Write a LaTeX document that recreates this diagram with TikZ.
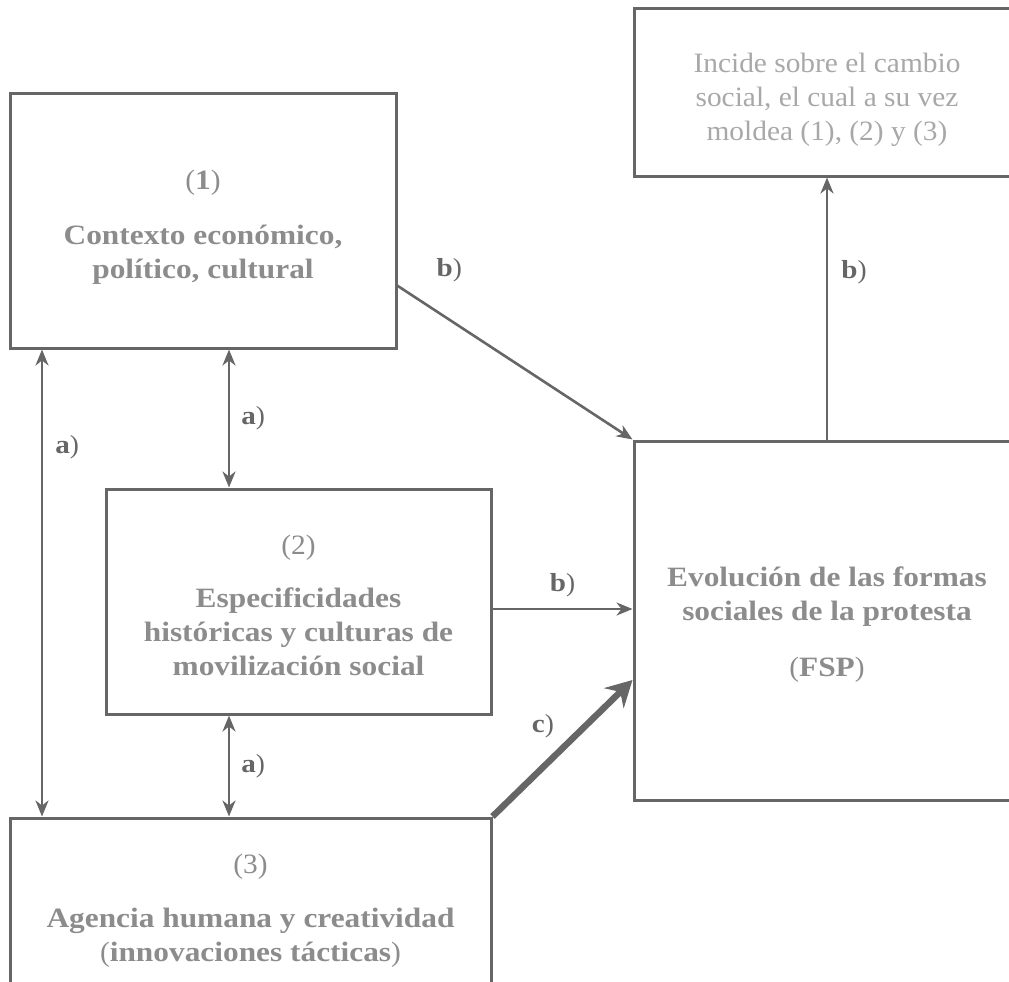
\documentclass[tikz,border=0pt]{standalone}
\usepackage{fontspec}
\setmainfont{Liberation Serif}[FakeStretch=1.05, BoldFeatures={FakeStretch=1.12}]
\usetikzlibrary{arrows.meta,positioning,calc}
\definecolor{linegray}{HTML}{666666}
\definecolor{txtgray}{HTML}{8C8C8C}
\definecolor{lightgray}{HTML}{A8A8A8}
\begin{document}
\begin{tikzpicture}[x=1pt, y=-1pt,
    box/.style = {draw = linegray, line width = 3pt, inner sep = 0pt},
    txt/.style = {align = center, text = txtgray, inner sep = 0pt, font = \fontsize{28}{34}\selectfont},
    lbl/.style = {text = linegray, font = \fontsize{26}{28}\selectfont, inner sep = 0pt},
    arr/.style = {draw = linegray, line width = 2.6pt, -{Stealth[length=16pt, width=13pt, inset=5pt]}},
    dbl/.style = {draw = linegray, line width = 2.6pt,
                  {Stealth[length=16pt, width=13pt, inset=5pt]}-{Stealth[length=16pt, width=13pt, inset=5pt]}},
    big/.style = {draw = linegray, line width = 6.5pt, -{Stealth[length=26pt, width=28pt, inset=9pt]}}]
    \useasboundingbox (0, 0) rectangle (1009, 982);
    \clip (0, 0) rectangle (1009, 982);

    \node[box, minimum width = 386pt, minimum height = 255pt] (ctx) at (203, 220.5) {};
    \node[box, minimum width = 385pt, minimum height = 225pt] (esp) at (298.5, 601.5) {};
    \node[box, minimum width = 481pt, minimum height = 177pt] (agc) at (250.5, 906.5) {};
    \node[box, minimum width = 386pt, minimum height = 359pt] (fsp) at (827, 620.5) {};
    \node[box, minimum width = 386pt, minimum height = 167pt] (inc) at (827, 92.5) {};

    \node[txt] (ctxt) at ([yshift = -7pt]ctx.center)
        {(\textbf{1})\\[21pt]\textbf{Contexto económico,}\\\textbf{político, cultural}};
    \node[txt] (espt) at ([yshift = -4pt]esp.center)
        {(2)\\[19pt]\textbf{Especificidades}\\\textbf{históricas y culturas de}\\\textbf{movilización social}};
    \node[txt] (agct) at ([yshift = -4pt]agc.center)
        {(3)\\[20pt]\textbf{Agencia humana y creatividad}\\(\textbf{innovaciones tácticas})};
    \node[txt] (fspt) at ([yshift = -4pt]fsp.center)
        {\textbf{Evolución de las formas}\\\textbf{sociales de la protesta}\\[22pt](\textbf{FSP})};
    \node[txt, text = lightgray] (inct) at ([yshift = -7pt]inc.center)
        {Incide sobre el cambio\\social, el cual a su vez\\moldea (1), (2) y (3)};

    \coordinate (xl) at (42, 0);
    \coordinate (xm) at (229, 0);
    \coordinate (s1) at ($(ctx.north east)!0.753!(ctx.south east)$);
    \coordinate (s2) at ([yshift = -7.5pt]esp.east);

    % a) links
    \draw[dbl] (ctx.south -| xl) -- (agc.north -| xl) node[lbl, pos = 0.21, right = 12pt] {\textbf{a})};
    \draw[dbl] (ctx.south -| xm) -- (esp.north -| xm) node[lbl, midway, right = 11pt] {\textbf{a})};
    \draw[dbl] (esp.south -| xm) -- (agc.north -| xm) node[lbl, midway, right = 11pt] {\textbf{a})};

    % b) links
    \draw[arr] (s1) -- (fsp.north west) node[lbl, pos = 0.22, above = 36pt] {\textbf{b})};
    \draw[arr] (s2) -- (s2 -| fsp.west) node[lbl, midway, above = 11pt] {\textbf{b})};
    \draw[arr] (fsp.north) -- (inc.south) node[lbl, pos = 0.64, right = 13pt] {\textbf{b})};

    % c)
    \draw[big] (agc.north east) -- ([yshift = -59.5pt]fsp.west) node[lbl, pos = 0.36, above = 26pt] {\textbf{c})};
    %\draw[big] (agc.north east) -- (fsp.west);
\end{tikzpicture}
\end{document}
